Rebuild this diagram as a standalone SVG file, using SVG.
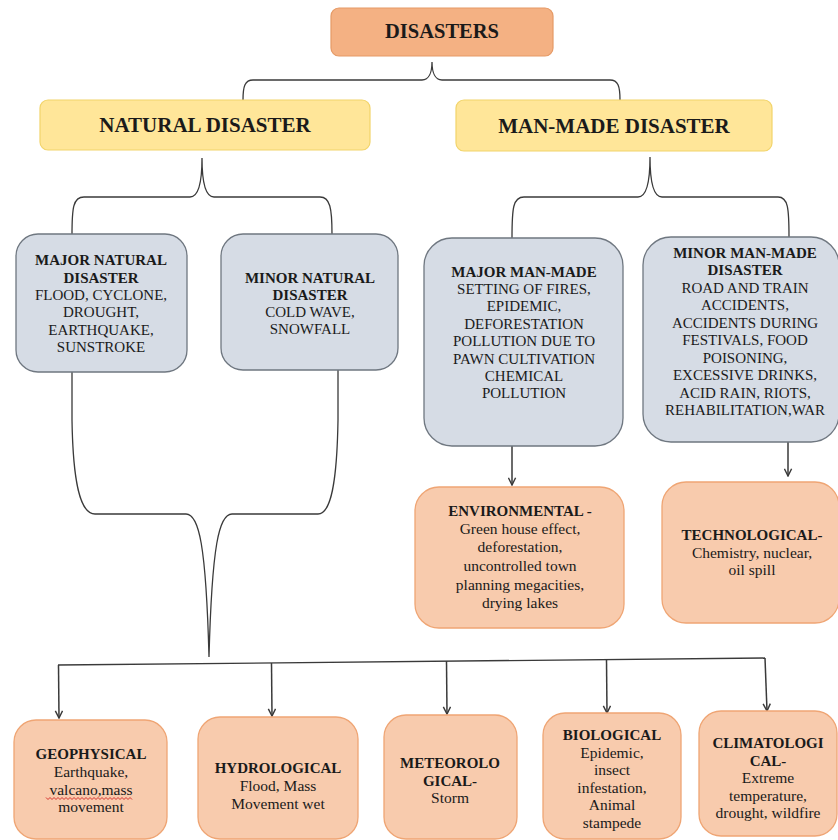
<svg xmlns="http://www.w3.org/2000/svg" width="838" height="840" viewBox="0 0 838 840">
<defs>
<style>
.t{font-family:"Liberation Serif","Times New Roman",serif;fill:#1a1a1a;text-anchor:middle}
.h{font-size:21px;font-weight:bold}
.b{font-size:15px;font-weight:bold}
.g{font-size:15px}
.o{font-size:15.5px}
.top{fill:#F4B183;stroke:#E59A66;stroke-width:1.2}
.yel{fill:#FFE699;stroke:#F2D46B;stroke-width:1.2}
.gry{fill:#D6DCE5;stroke:#6F7780;stroke-width:1.3}
.org{fill:#F8CBAD;stroke:#EFA574;stroke-width:1.3}
.ln{fill:none;stroke:#3a3a3a;stroke-width:1.3}
.ar{fill:none;stroke:#3a3a3a;stroke-width:1.5;marker-end:url(#ah)}
</style>
<marker id="ah" viewBox="0 0 10 10" refX="9" refY="5" markerWidth="9" markerHeight="9" markerUnits="userSpaceOnUse" orient="auto">
<path d="M1,1 L9,5 L1,9" fill="none" stroke="#3a3a3a" stroke-width="1.6"/>
</marker>
</defs>
<rect width="838" height="840" fill="#ffffff"/>

<g id="connectors">
<path class="ln" d="M243,100 C243,86 245,80 253,80 L422,80 C429,80 432,72 432,62 C432,72 435,80 442,80 L610,80 C618,80 620,86 620,100"/>
<path class="ln" d="M72,235 C72,208 73,197 84,197 L190,197 C198,197 202,185 202,158 C202,185 206,197 214,197 L320,197 C330,197 332,208 332,234"/>
<path class="ln" d="M512,238 C512,208 513,197 524,197 L638,197 C646,197 650,185 650,157 C650,185 654,197 662,197 L778,197 C788,197 789,208 789,237"/>
<path class="ln" d="M72,372 L72,420 C73,482 80,514 95,514 L186,514 C199,514 206,545 209,657 C212,545 219,514 232,514 L318,514 C331,514 337,482 338,420 L338,370"/>
<path class="ln" d="M58,665 L765,658"/>
<path class="ar" d="M58.5,665 L59,718"/>
<path class="ar" d="M271.5,663 L272,716"/>
<path class="ar" d="M446.5,661 L447,714"/>
<path class="ar" d="M606.5,659.5 L607,713"/>
<path class="ar" d="M765,658 L767,711"/>
<path class="ar" d="M512,446 L512,485"/>
<path class="ar" d="M788,442 L788,476"/>
</g>

<g id="disasters">
<rect class="top" x="331" y="8" width="222" height="48" rx="8"/>
<text class="t h" x="442" y="38" style="font-size:20.5px">DISASTERS</text>
</g>

<g id="natural">
<rect class="yel" x="40" y="100" width="330" height="50" rx="8"/>
<text class="t h" x="205" y="132">NATURAL DISASTER</text>
</g>

<g id="manmade">
<rect class="yel" x="456" y="100" width="316" height="51" rx="8"/>
<text class="t h" x="614" y="133">MAN-MADE DISASTER</text>
</g>

<g id="major-natural">
<rect class="gry" x="16" y="234" width="171" height="138" rx="22"/>
<text class="t b" x="101" y="265">MAJOR NATURAL</text>
<text class="t b" x="101" y="283">DISASTER</text>
<text class="t g" x="101" y="300">FLOOD, CYCLONE,</text>
<text class="t g" x="101" y="317">DROUGHT,</text>
<text class="t g" x="101" y="335">EARTHQUAKE,</text>
<text class="t g" x="101" y="352">SUNSTROKE</text>
</g>

<g id="minor-natural">
<rect class="gry" x="221" y="234" width="177" height="136" rx="22"/>
<text class="t b" x="310" y="283">MINOR NATURAL</text>
<text class="t b" x="310" y="300">DISASTER</text>
<text class="t g" x="310" y="317">COLD WAVE,</text>
<text class="t g" x="310" y="334">SNOWFALL</text>
</g>

<g id="major-manmade">
<rect class="gry" x="424" y="238" width="199" height="208" rx="28"/>
<text class="t b" x="524" y="277">MAJOR MAN-MADE</text>
<text class="t g" x="524" y="294">SETTING OF FIRES,</text>
<text class="t g" x="524" y="311">EPIDEMIC,</text>
<text class="t g" x="524" y="329">DEFORESTATION</text>
<text class="t g" x="524" y="346">POLLUTION  DUE TO</text>
<text class="t g" x="524" y="364">PAWN CULTIVATION</text>
<text class="t g" x="524" y="381">CHEMICAL</text>
<text class="t g" x="524" y="398">POLLUTION</text>
</g>

<g id="minor-manmade">
<rect class="gry" x="643" y="237" width="196" height="205" rx="28"/>
<text class="t b" x="745" y="258">MINOR MAN-MADE</text>
<text class="t b" x="745" y="275">DISASTER</text>
<text class="t g" x="745" y="293">ROAD AND TRAIN</text>
<text class="t g" x="745" y="310">ACCIDENTS,</text>
<text class="t g" x="745" y="328">ACCIDENTS DURING</text>
<text class="t g" x="745" y="345">FESTIVALS, FOOD</text>
<text class="t g" x="745" y="363">POISONING,</text>
<text class="t g" x="745" y="380">EXCESSIVE DRINKS,</text>
<text class="t g" x="745" y="398">ACID RAIN, RIOTS,</text>
<text class="t g" x="745" y="415">REHABILITATION,WAR</text>
</g>

<g id="environmental">
<rect class="org" x="415" y="487" width="209" height="141" rx="24"/>
<text class="t b" x="520" y="516">ENVIRONMENTAL -</text>
<text class="t o" x="520" y="534">Green house effect,</text>
<text class="t o" x="520" y="552">deforestation,</text>
<text class="t o" x="520" y="571">uncontrolled town</text>
<text class="t o" x="520" y="590">planning megacities,</text>
<text class="t o" x="520" y="608">drying lakes</text>
</g>

<g id="technological">
<rect class="org" x="662" y="482" width="177" height="141" rx="24"/>
<text class="t b" x="752" y="540">TECHNOLOGICAL-</text>
<text class="t o" x="752" y="557.5">Chemistry, nuclear,</text>
<text class="t o" x="752" y="575">oil spill</text>
</g>

<g id="geophysical">
<rect class="org" x="14" y="720" width="153" height="119" rx="22"/>
<text class="t b" x="91" y="759">GEOPHYSICAL</text>
<text class="t o" x="91" y="777">Earthquake,</text>
<text class="t o" x="91" y="794.5">valcano,mass</text>
<path d="M46,797.5 l2,2 l2,-2 l2,2 l2,-2 l2,2 l2,-2 l2,2 l2,-2 l2,2 l2,-2 l2,2 l2,-2 l2,2 l2,-2 l2,2 l2,-2 l2,2 l2,-2 l2,2 l2,-2 l2,2 l2,-2 l2,2 l2,-2 l2,2 l2,-2 l2,2 l2,-2 l2,2 l2,-2 l2,2 l2,-2 l2,2 l2,-2 l2,2 l2,-2 l2,2 l2,-2 l2,2 l2,-2 l2,2 l2,-2 l2,2" fill="none" stroke="#d02020" stroke-width="0.9"/>
<text class="t o" x="91" y="812">movement</text>
</g>

<g id="hydrological">
<rect class="org" x="198" y="717" width="160" height="122" rx="22"/>
<text class="t b" x="278" y="773">HYDROLOGICAL</text>
<text class="t o" x="278" y="791">Flood, Mass</text>
<text class="t o" x="278" y="808.5">Movement wet</text>
</g>

<g id="meteorological">
<rect class="org" x="384" y="715" width="133" height="124" rx="22"/>
<text class="t b" x="450" y="768">METEOROLO</text>
<text class="t b" x="450" y="785.5">GICAL-</text>
<text class="t o" x="450" y="803">Storm</text>
</g>

<g id="biological">
<rect class="org" x="543" y="713" width="138" height="126" rx="22"/>
<text class="t b" x="612" y="740">BIOLOGICAL</text>
<text class="t o" x="612" y="757.5">Epidemic,</text>
<text class="t o" x="612" y="775">insect</text>
<text class="t o" x="612" y="792.5">infestation,</text>
<text class="t o" x="612" y="810">Animal</text>
<text class="t o" x="612" y="827.5">stampede</text>
</g>

<g id="climatological">
<rect class="org" x="699" y="711" width="138" height="125" rx="22"/>
<text class="t b" x="768" y="748">CLIMATOLOGI</text>
<text class="t b" x="768" y="765.5">CAL-</text>
<text class="t o" x="768" y="783">Extreme</text>
<text class="t o" x="768" y="800.5">temperature,</text>
<text class="t o" x="768" y="818">drought, wildfire</text>
</g>
</svg>
